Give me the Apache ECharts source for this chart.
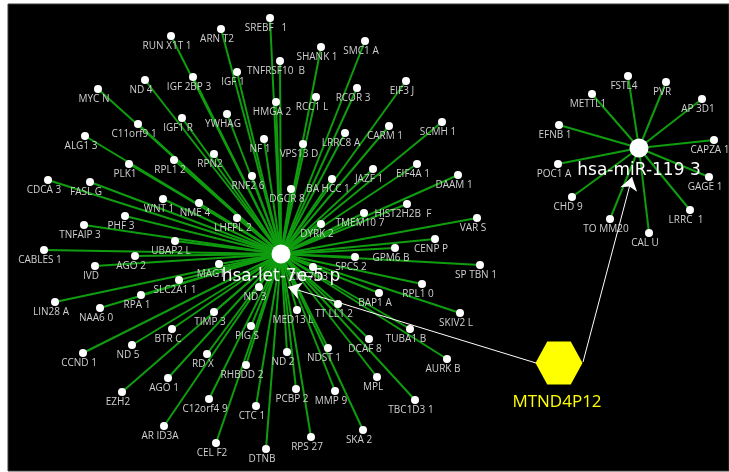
<!DOCTYPE html>
<html>
<head>
<meta charset="utf-8">
<script src="https://cdn.jsdelivr.net/npm/echarts@6/dist/echarts.min.js"></script>
<style>
  html, body { margin: 0; padding: 0; background: #ffffff; }
  #chart { width: 729px; height: 472px; }
</style>
</head>
<body>
<div id="chart"></div>
<script>
// miRNA hubs and the pseudogene that regulates them
const hubNames = ['hsa-let-7e-5 p', 'hsa-miR-119 3'];
const hubLayout = [[281, 254], [639, 148]];
const regulatorName = 'MTND4P12';
const regulatorLayout = [559, 363];

// target genes of hsa-let-7e-5p
const let7eTargets = [
  'RUN X1T 1', 'ARN T2', 'SREBF   1', 'SHANK 1', 'SMC1 A', 'TNFRSF10  B', 'IGF 1', 'IGF 2BP 3',
  'ND 4', 'MYC N', 'HMGA 2', 'RCC1 L', 'RCOR 3', 'EIF3 J', 'YWHAG', 'IGF1 R', 'C11orf9 1',
  'ALG1 3', 'NF 1', 'VPS13 D', 'LRRC8 A', 'CARM 1', 'SCMH 1', 'RPN2', 'RPL1 2', 'PLK1',
  'RNF2 6', 'BA HCC 1', 'JAZF 1', 'EIF4A 1', 'DAAM 1', 'CDCA 3', 'FASL G', 'DGCR 8', 'WNT 1',
  'NME 4', 'HIST2H2B  F', 'TMEM10 7', 'PHF 3', 'LHFPL 2', 'VAR S', 'TNFAIP 3', 'DYRK 2',
  'CENP P', 'UBAP2 L', 'GPM6 B', 'CABLES 1', 'AGO 2', 'SPCS 2', 'MAGT 1', 'SP TBN 1', 'IVD',
  'ZNF70 3', 'SLC2A1 1', 'RPL1 0', 'ND 3', 'BAP1 A', 'RPA 1', 'LIN28 A', 'TT LL1 2', 'NAA6 0',
  'MED13 L', 'TIMP 3', 'SKIV2 L', 'PIG S', 'TUBA1 B', 'BTR C', 'DCAF 8', 'ND 5', 'NDST 1',
  'ND 2', 'CCND 1', 'RD X', 'AURK B', 'RHBDD 2', 'MPL', 'AGO 1', 'PCBP 2', 'MMP 9', 'EZH2',
  'C12orf4 9', 'TBC1D3 1', 'CTC 1', 'AR ID3A', 'SKA 2', 'RPS 27', 'CEL F2', 'DTNB'
];
// node placement (layout coordinates)
const let7eLayout = [
  [171, 36], [221, 29], [270, 18], [321, 47], [365, 41], [280, 61], [237, 72], [193, 77],
  [145, 80], [98, 89], [276, 102], [316, 97], [357, 88], [406, 81], [227, 114], [182, 118], [138, 124],
  [85, 136], [264, 139], [303, 144], [345, 133], [389, 126], [442, 122], [214, 154], [174, 160], [129, 164],
  [252, 176], [332, 179], [373, 169], [417, 164], [458, 175], [48, 180], [90, 182], [291, 189], [163, 199],
  [199, 203], [407, 204], [364, 213], [125, 216], [237, 218], [477, 218], [84, 225], [321, 224],
  [435, 239], [175, 241], [395, 248], [44, 250], [135, 256], [355, 257], [219, 264], [480, 265], [95, 266],
  [313, 267], [179, 280], [422, 284], [259, 287], [379, 293], [141, 295], [55, 302], [338, 304], [100, 308],
  [297, 310], [214, 312], [460, 313], [251, 326], [410, 329], [172, 329], [369, 339], [132, 345], [328, 348],
  [287, 352], [83, 353], [207, 354], [447, 359], [246, 365], [377, 377], [168, 378], [296, 389], [335, 391], [122, 392],
  [209, 399], [415, 400], [256, 406], [164, 426], [363, 430], [311, 437], [216, 443], [266, 449]
];

// target genes of hsa-miR-1193
const mir1193Targets = [
  'FSTL4', 'PVR', 'METTL1', 'AP 3D1', 'EFNB 1', 'CAPZA 1', 'POC1 A', 'GAGE 1',
  'CHD 9', 'LRRC  1', 'TO MM20', 'CAL U'
];
const mir1193Layout = [
  [628, 76], [666, 82], [592, 94], [702, 99], [559, 125], [714, 140], [558, 164], [709, 177],
  [572, 197], [690, 210], [610, 219], [649, 233]
];

// arrows from the pseudogene: start offset on the hexagon, end offset from the hub centre
const arrowStarts = [[-23, 0], [24, -1]];
const arrowEnds = [[7, 33], [-7, 29]];

const GREEN = '#0f9d0f';
const LABEL_GRAY = '#cfcfcf';

const nodes = [];
const links = [];

function addTargets(names, layout, hub) {
  names.forEach((n, i) => {
    nodes.push({
      name: n,
      value: layout[i],
      symbol: 'circle',
      symbolSize: 8,
      itemStyle: { color: '#ffffff' },
      label: {
        show: true, position: 'inside', offset: [-4, 10],
        color: LABEL_GRAY, fontSize: 10, fontFamily: 'Open Sans'
      }
    });
    links.push({ source: hub, target: n });
  });
}
addTargets(let7eTargets, let7eLayout, hubNames[0]);
addTargets(mir1193Targets, mir1193Layout, hubNames[1]);

hubNames.forEach((h, i) => {
  nodes.push({
    name: h,
    value: hubLayout[i],
    symbol: 'circle',
    symbolSize: 19,
    itemStyle: { color: '#ffffff' },
    label: {
      show: true, position: 'inside', offset: [0, 23],
      color: '#ffffff', fontSize: 17, fontFamily: 'DejaVu Sans'
    }
  });
});

nodes.push({
  name: regulatorName,
  value: regulatorLayout,
  symbol: 'path://M0,50 L25,0 L75,0 L100,50 L75,100 L25,100 Z',
  symbolSize: [47, 43],
  symbolKeepAspect: false,
  itemStyle: { color: '#ffff00' },
  label: {
    show: true, position: 'inside', offset: [-2, 39],
    color: '#ffff00', fontSize: 17, fontFamily: 'Open Sans'
  }
});

const arrowData = hubNames.map((h, i) => ({
  coords: [
    [regulatorLayout[0] + arrowStarts[i][0], regulatorLayout[1] + arrowStarts[i][1]],
    [hubLayout[i][0] + arrowEnds[i][0], hubLayout[i][1] + arrowEnds[i][1]]
  ]
}));

const chart = echarts.init(document.getElementById('chart'), null, { renderer: 'canvas' });
chart.setOption({
  backgroundColor: '#ffffff',
  animation: false,
  graphic: [{
    type: 'rect', z: -10, silent: true,
    shape: { x: 8, y: 4, width: 721, height: 467 },
    style: { fill: '#000000', stroke: '#3a3a3a', lineWidth: 1 }
  }],
  grid: { left: 0, right: 0, top: 0, bottom: 0 },
  xAxis: { type: 'value', min: 0, max: 729, show: false },
  yAxis: { type: 'value', min: 0, max: 472, inverse: true, show: false },
  series: [
    {
      type: 'graph',
      coordinateSystem: 'cartesian2d',
      layout: 'none',
      data: nodes,
      links: links,
      lineStyle: { color: GREEN, width: 2, opacity: 1 },
      emphasis: { disabled: true },
      z: 2
    },
    {
      type: 'lines',
      coordinateSystem: 'cartesian2d',
      data: arrowData,
      symbol: ['none', 'arrow'],
      symbolSize: 13,
      lineStyle: { color: '#ffffff', width: 1, opacity: 1, curveness: 0 },
      z: 5
    }
  ]
});
</script>
</body>
</html>
